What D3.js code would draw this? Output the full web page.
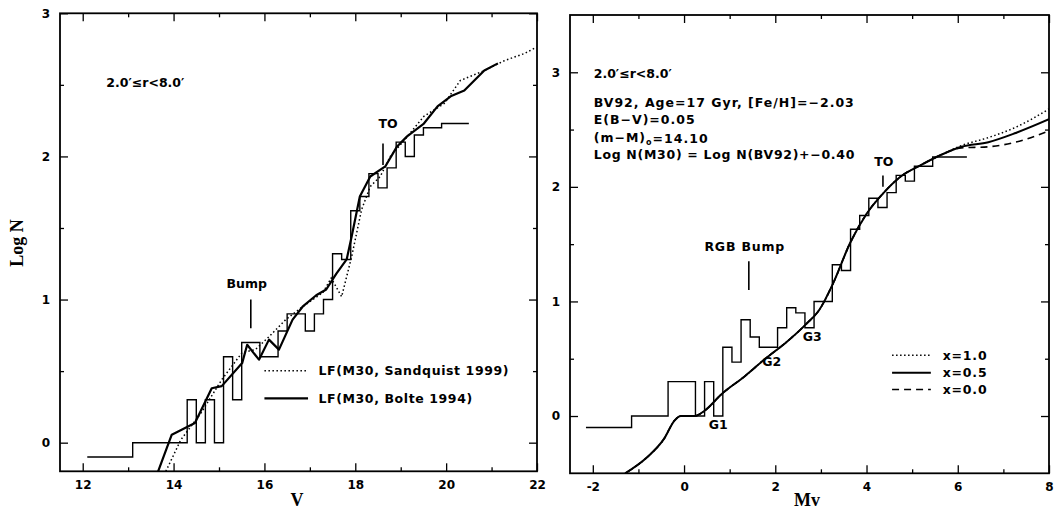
<!DOCTYPE html>
<html><head><meta charset="utf-8">
<script src="https://cdn.jsdelivr.net/npm/d3@7"></script>
<style>
body{margin:0;background:#fff}
text{font-family:"DejaVu Sans",sans-serif;font-weight:bold;fill:#000}
.tick text{font-family:"DejaVu Sans",sans-serif;font-size:12px;font-weight:bold}
.tick line{stroke:#000;stroke-width:1.3}
</style>
</head><body>
<svg id="c" width="1059" height="516"></svg>
<script>
// ---------- Left panel data (V) ----------
const leftXTicks = [12, 14, 16, 18, 20, 22];
const leftXMinor = [13, 15, 17, 19, 21];
const leftYTicks = [0, 1, 2, 3];
const leftYMinor = [0.5, 1.5, 2.5];
const leftHistEdges = [12.1, 13.1, 14.3, 14.5, 14.7, 14.9, 15.1, 15.3, 15.5, 15.7, 15.9, 16.1, 16.3, 16.5, 16.7, 16.9, 17.1, 17.3, 17.5, 17.7, 17.9, 18.1, 18.3, 18.5, 18.7, 18.9, 19.1, 19.3, 19.5, 19.7, 19.9, 20.1, 20.5];
const leftHistValues = [-0.1, 0, 0.3, 0, 0.3, 0, 0.6, 0.3, 0.7, 0.7, 0.6, 0.6, 0.78, 0.9, 0.9, 0.78, 0.9, 1.0, 1.32, 1.28, 1.62, 1.72, 1.88, 1.78, 1.92, 2.1, 2.0, 2.15, 2.2, 2.2, 2.23, 2.23];
const bolteV =    [13.66, 13.96, 14.47, 14.84, 15.06, 15.51, 15.62, 15.88, 16.10, 16.32, 16.62, 16.84, 17.14, 17.36, 17.58, 17.81, 17.92, 18.10, 18.33, 18.66, 18.92, 19.14, 19.51, 19.81, 20.10, 20.40, 20.84, 21.14];
const bolteLogN = [-0.2, 0.056, 0.137, 0.38, 0.395, 0.556, 0.684, 0.58, 0.72, 0.65, 0.86, 0.95, 1.03, 1.07, 1.18, 1.28, 1.44, 1.72, 1.86, 1.93, 2.07, 2.14, 2.23, 2.35, 2.42, 2.46, 2.60, 2.65];
const sandV =    [13.83, 14.16, 14.61, 15.06, 15.51, 15.8, 16.10, 16.47, 16.84, 17.29, 17.47, 17.70, 17.92, 18.14, 18.33, 18.55, 18.77, 19.07, 19.51, 19.96, 20.31, 20.84, 21.29, 21.73, 21.97];
const sandLogN = [-0.2, 0.02, 0.21, 0.44, 0.63, 0.65, 0.74, 0.86, 0.95, 1.05, 1.15, 1.02, 1.30, 1.63, 1.79, 1.86, 2.0, 2.11, 2.28, 2.37, 2.53, 2.60, 2.67, 2.72, 2.76];

// ---------- Right panel data (Mv) ----------
const rightXTicks = [-2, 0, 2, 4, 6, 8];
const rightXMinor = [-1, 1, 3, 5, 7];
const rightYTicks = [0, 1, 2, 3];
const rightYMinor = [0.5, 1.5, 2.5];
const rightHistEdges = [-2.15, -1.15, -0.35, 0.25, 0.45, 0.65, 0.85, 1.05, 1.25, 1.45, 1.65, 2.05, 2.25, 2.45, 2.65, 2.85, 3.25, 3.45, 3.65, 3.85, 4.05, 4.25, 4.45, 4.65, 4.85, 5.05, 5.45, 6.2];
const rightHistValues = [-0.1, 0, 0.3, 0, 0.3, 0, 0.6, 0.47, 0.84, 0.69, 0.6, 0.77, 0.945, 0.9, 0.77, 1.0, 1.32, 1.27, 1.63, 1.75, 1.9, 1.82, 1.95, 2.1, 2.05, 2.18, 2.26];
const modelMv =   [-1.29, -0.81, -0.44, -0.21, -0.07, 0.23, 0.45, 0.82, 1.34, 1.78, 2.23, 2.67, 2.97, 3.27, 3.64, 4.01, 4.38, 4.75, 5.19, 5.64];
const modelLogN = [-0.5, -0.36, -0.2, -0.04, 0.0, 0.0, 0.046, 0.19, 0.35, 0.50, 0.64, 0.80, 0.93, 1.16, 1.51, 1.77, 1.95, 2.09, 2.19, 2.28];
const tailMv = [6.08, 6.67, 7.27, 8.0];
const tailX10 = [2.36, 2.43, 2.52, 2.68];
const tailX05 = [2.35, 2.39, 2.47, 2.59];
const tailX00 = [2.34, 2.35, 2.39, 2.49];
const legendLabels = ["x=1.0", "x=0.5", "x=0.0"];

const svg = d3.select("#c");

function axes(g, x, y, xMaj, xMin, yMaj, yMin) {
  const [x0, x1] = x.range(), [yb, yt] = y.range();
  const fmt = d => String(d);
  g.append("g").attr("transform", `translate(0,${yb})`).call(d3.axisBottom(x).tickValues(xMaj).tickSize(-8).tickPadding(9).tickFormat(fmt));
  g.append("g").attr("transform", `translate(0,${yb})`).call(d3.axisBottom(x).tickValues(xMin).tickSize(-4).tickFormat(""));
  g.append("g").attr("transform", `translate(0,${yt})`).call(d3.axisTop(x).tickValues(xMaj).tickSize(-8).tickFormat(""));
  g.append("g").attr("transform", `translate(0,${yt})`).call(d3.axisTop(x).tickValues(xMin).tickSize(-4).tickFormat(""));
  g.append("g").attr("transform", `translate(${x0},0)`).call(d3.axisLeft(y).tickValues(yMaj).tickSize(-8).tickPadding(10).tickFormat(fmt));
  g.append("g").attr("transform", `translate(${x0},0)`).call(d3.axisLeft(y).tickValues(yMin).tickSize(-4).tickFormat(""));
  g.append("g").attr("transform", `translate(${x1},0)`).call(d3.axisRight(y).tickValues(yMaj).tickSize(-8).tickFormat(""));
  g.append("g").attr("transform", `translate(${x1},0)`).call(d3.axisRight(y).tickValues(yMin).tickSize(-4).tickFormat(""));
  g.selectAll(".domain").remove();
  g.append("rect").attr("x", x0).attr("y", yt).attr("width", x1 - x0).attr("height", yb - yt)
    .attr("fill", "none").attr("stroke", "#000").attr("stroke-width", 1.8);
}

function histPath(x, y, edges, vals) {
  const pts = [];
  vals.forEach((v, i) => { pts.push([edges[i], v]); pts.push([edges[i + 1], v]); });
  return d3.line().x(d => x(d[0])).y(d => y(d[1]))(pts);
}
function histBoxes(g, x, y, edges, vals, clipId) {
  g.append("path").attr("d", histPath(x, y, edges, vals)).attr("fill", "none")
    .attr("stroke", "#000").attr("stroke-width", 1.4).attr("clip-path", `url(#${clipId})`);
}
function txt(g, x, y, s, opts = {}) {
  const t = g.append("text").attr("x", x).attr("y", y).text(s)
    .attr("font-size", opts.size || 12.5).attr("text-anchor", opts.anchor || "start")
    .attr("dominant-baseline", "central");
  if (opts.ls) t.attr("letter-spacing", opts.ls);
  return t;
}

// ================= LEFT PANEL =================
const xL = d3.scaleLinear().domain([11.5, 22]).range([60, 537]);
const yL = d3.scaleLinear().domain([-0.2, 3]).range([471.3, 13.3]);
const gL = svg.append("g");
svg.append("clipPath").attr("id", "clipL").append("rect").attr("x", 60).attr("y", 13.3).attr("width", 477).attr("height", 458);
svg.append("clipPath").attr("id", "clipR").append("rect").attr("x", 570).attr("y", 15).attr("width", 479).attr("height", 458.3);

histBoxes(gL, xL, yL, leftHistEdges, leftHistValues, "clipL");
const lineL = d3.line().x(d => xL(d[0])).y(d => yL(d[1]));
gL.append("path").attr("d", lineL(sandV.map((v, i) => [v, sandLogN[i]])))
  .attr("fill", "none").attr("stroke", "#000").attr("stroke-width", 1.5).attr("stroke-dasharray", "1.5,2.5").attr("clip-path", "url(#clipL)");
gL.append("path").attr("d", lineL(bolteV.map((v, i) => [v, bolteLogN[i]])))
  .attr("fill", "none").attr("stroke", "#000").attr("stroke-width", 2.2).attr("stroke-linejoin", "round").attr("clip-path", "url(#clipL)");
axes(gL, xL, yL, leftXTicks, leftXMinor, leftYTicks, leftYMinor);

txt(gL, xL(12.52), yL(2.52), "2.0′≤r<8.0′", {size: 12.5});
txt(gL, xL(15.61), yL(1.11), "Bump", {anchor: "middle"});
gL.append("line").attr("x1", xL(15.70)).attr("x2", xL(15.70)).attr("y1", yL(1.0)).attr("y2", yL(0.8)).attr("stroke", "#000").attr("stroke-width", 1.6);
txt(gL, xL(18.72), yL(2.23), "TO", {anchor: "middle"});
gL.append("line").attr("x1", xL(18.61)).attr("x2", xL(18.61)).attr("y1", yL(2.09)).attr("y2", yL(1.94)).attr("stroke", "#000").attr("stroke-width", 1.6);
gL.append("line").attr("x1", xL(16.0)).attr("x2", xL(16.96)).attr("y1", yL(0.503)).attr("y2", yL(0.503)).attr("stroke", "#000").attr("stroke-width", 1.5).attr("stroke-dasharray", "1.5,2.5");
txt(gL, xL(17.19), yL(0.503), "LF(M30, Sandquist 1999)", {ls: 0.6});
gL.append("line").attr("x1", xL(16.0)).attr("x2", xL(16.96)).attr("y1", yL(0.31)).attr("y2", yL(0.31)).attr("stroke", "#000").attr("stroke-width", 2.2);
txt(gL, xL(17.19), yL(0.31), "LF(M30, Bolte 1994)", {ls: 0.6});

svg.append("text").attr("x", 297).attr("y", 500).attr("text-anchor", "middle").attr("dominant-baseline", "central")
  .style("font-family", "'Liberation Serif',serif").attr("font-size", 18).text("V");
svg.append("text").attr("transform", "translate(17,243) rotate(-90)").attr("text-anchor", "middle").attr("dominant-baseline", "central")
  .style("font-family", "'Liberation Serif',serif").attr("font-size", 18).text("Log N");

// ================= RIGHT PANEL =================
const xR = d3.scaleLinear().domain([-2.5, 8]).range([570, 1049]);
const yR = d3.scaleLinear().domain([-0.5, 3.5]).range([473.3, 15]);
const gR = svg.append("g");
histBoxes(gR, xR, yR, rightHistEdges, rightHistValues, "clipR");
const lineR = d3.line().x(d => xR(d[0])).y(d => yR(d[1])).curve(d3.curveMonotoneX);
const common = modelMv.map((v, i) => [v, modelLogN[i]]);
const styles = [
  {vals: tailX10, w: 1.5, dash: "1.5,2.5"},
  {vals: tailX00, w: 1.6, dash: "7,5"},
  {vals: tailX05, w: 2.0, dash: null}
];
styles.forEach(s => {
  const pts = common.concat(tailMv.map((m, i) => [m, s.vals[i]]));
  const p = gR.append("path").attr("d", lineR(pts)).attr("fill", "none").attr("stroke", "#000")
    .attr("stroke-width", s.w).attr("clip-path", "url(#clipR)");
  if (s.dash) p.attr("stroke-dasharray", s.dash);
});
axes(gR, xR, yR, rightXTicks, rightXMinor, rightYTicks, rightYMinor);

txt(gR, xR(-1.98), yR(2.99), "2.0′≤r<8.0′");
txt(gR, xR(-1.98), yR(2.74), "BV92, Age=17 Gyr, [Fe/H]=−2.03", {ls: 1.0});
txt(gR, xR(-1.98), yR(2.59), "E(B−V)=0.05", {ls: 1.0});
const mm = txt(gR, xR(-1.98), yR(2.43), "(m−M)", {ls: 1.0});
mm.append("tspan").attr("font-size", 8).attr("dy", 4).text("o");
mm.append("tspan").attr("dy", -4).text("=14.10");
txt(gR, xR(-1.98), yR(2.28), "Log N(M30) = Log N(BV92)+−0.40", {ls: 0.7});
txt(gR, xR(4.38), yR(2.22), "TO", {anchor: "middle"});
gR.append("line").attr("x1", xR(4.36)).attr("x2", xR(4.36)).attr("y1", yR(2.10)).attr("y2", yR(2.0)).attr("stroke", "#000").attr("stroke-width", 1.6);
txt(gR, xR(1.33), yR(1.48), "RGB Bump", {anchor: "middle", ls: 0.8});
gR.append("line").attr("x1", xR(1.42)).attr("x2", xR(1.42)).attr("y1", yR(1.35)).attr("y2", yR(1.10)).attr("stroke", "#000").attr("stroke-width", 1.6);
txt(gR, xR(0.75), yR(-0.07), "G1", {anchor: "middle"});
txt(gR, xR(1.92), yR(0.48), "G2", {anchor: "middle"});
txt(gR, xR(2.81), yR(0.69), "G3", {anchor: "middle"});

const legY = [0.53, 0.377, 0.232];
const legStyles = [styles[0], styles[2], styles[1]];
legY.forEach((ly, i) => {
  const l = gR.append("line").attr("x1", xR(4.56)).attr("x2", xR(5.41)).attr("y1", yR(ly)).attr("y2", yR(ly))
    .attr("stroke", "#000").attr("stroke-width", legStyles[i].w);
  if (legStyles[i].dash) l.attr("stroke-dasharray", legStyles[i].dash);
  txt(gR, xR(5.67), yR(ly), legendLabels[i], {ls: 0.8});
});

svg.append("text").attr("x", 807).attr("y", 500).attr("text-anchor", "middle").attr("dominant-baseline", "central")
  .style("font-family", "'Liberation Serif',serif").attr("font-size", 18).text("Mv");
</script>
</body></html>
